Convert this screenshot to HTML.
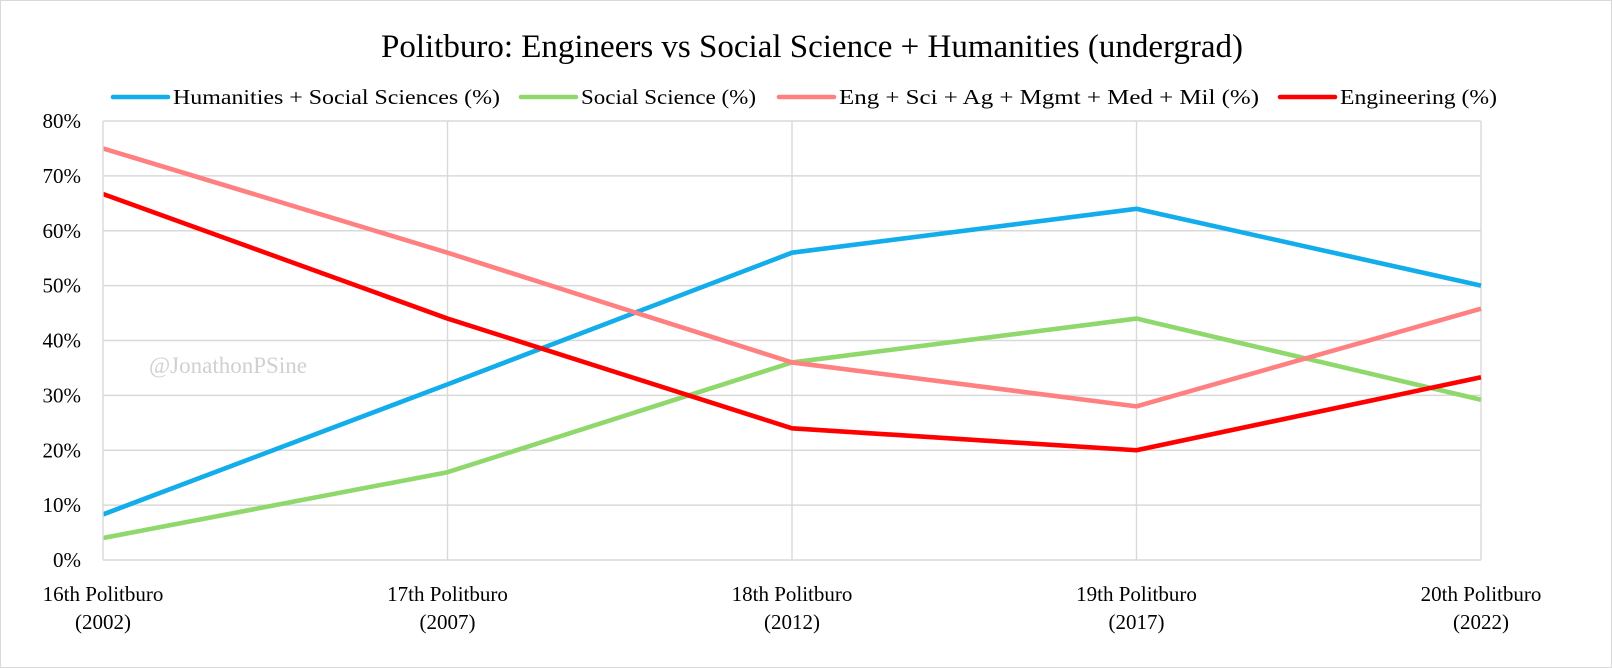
<!DOCTYPE html>
<html><head><meta charset="utf-8"><style>
body{margin:0;background:#fff}
svg{display:block;font-family:"Liberation Serif",serif}
</style></head><body>
<svg width="1612" height="668">
<rect x="0.5" y="0.5" width="1611" height="667" fill="#fff" stroke="#d9d9d9"/>
<text x="812" y="57" font-size="33" text-anchor="middle" fill="#000">Politburo: Engineers vs Social Science + Humanities (undergrad)</text>
<g id="legend"></g>
<g id="grid"></g>
<text x="149" y="373" font-size="23" fill="#d0d0d0">@JonathonPSine</text>
<g id="series"></g>
<g id="axes"></g>
</svg>
<script>
const categories=["16th Politburo|(2002)","17th Politburo|(2007)","18th Politburo|(2012)","19th Politburo|(2017)","20th Politburo|(2022)"];
const yTicks=[0,10,20,30,40,50,60,70,80];
const seriesNames=["Humanities + Social Sciences (%)","Social Science (%)","Eng + Sci + Ag + Mgmt + Med + Mil (%)","Engineering (%)"];
const seriesColors=["#12adea","#8ed86c","#ff8081","#ff0000"];
const humanities=[8.3,32,56,64,50];
const socialScience=[4,16,36,44,29.2];
const engSci=[75,56,36,28,45.8];
const engineering=[66.7,44,24,20,33.3];
const NS="http://www.w3.org/2000/svg";
const x0=103,x1=1481,y0=560,y80=121;
const xs=i=>x0+i*(x1-x0)/(categories.length-1);
const ys=v=>y0-v*(y0-y80)/80;
function mk(t,a,p){const e=document.createElementNS(NS,t);for(const k in a)e.setAttribute(k,a[k]);p.appendChild(e);return e;}
const grid=document.getElementById('grid'),axes=document.getElementById('axes'),ser=document.getElementById('series'),leg=document.getElementById('legend');
yTicks.forEach(t=>{
 const l=mk('line',{x1:x0,x2:x1,y1:ys(t),y2:ys(t),stroke:'#d9d9d9','stroke-width':1.4},grid);
 
 
 const tx=mk('text',{x:81,y:ys(t)+7,'font-size':21,'text-anchor':'end',fill:'#000'},axes);
 tx.textContent=t+'%';
 
 
});
categories.forEach((c,i)=>{
 const x=xs(i);
 if(i>0){const l=mk('line',{x1:x,x2:x,y1:y80,y2:y0,stroke:'#d9d9d9','stroke-width':1.4},grid);
 
 }
 const parts=c.split('|');
 const tx=mk('text',{'font-size':21,'text-anchor':'middle',fill:'#000'},axes);
 
 
 parts.forEach((p,j)=>{const s=mk('tspan',{x:x,y:601+j*28},tx);s.textContent=p;});
});
const ax=mk('line',{x1:x0,x2:x0,y1:y80,y2:y0,stroke:'#d9d9d9','stroke-width':1.4},axes);


const data=[humanities,socialScience,engSci,engineering];
data.forEach((d,k)=>{
 const pl=mk('polyline',{points:d.map((v,i)=>xs(i)+','+ys(v)).join(' '),fill:'none',stroke:seriesColors[k],'stroke-width':4.6,'stroke-linejoin':'round'},ser);
 
 
});
const legX=[113,521,779,1280];
const legW=[327,175,420,157];
seriesNames.forEach((n,k)=>{
 const g=mk('g',{},leg);
 
 
 mk('line',{x1:legX[k],x2:legX[k]+55,y1:97,y2:97,stroke:seriesColors[k],'stroke-width':4.6,'stroke-linecap':'round'},g);
 const t=mk('text',{x:legX[k]+60,y:104,'font-size':21,fill:'#000',textLength:legW[k],lengthAdjust:'spacingAndGlyphs'},g);t.textContent=n;
});
</script>
</body></html>
